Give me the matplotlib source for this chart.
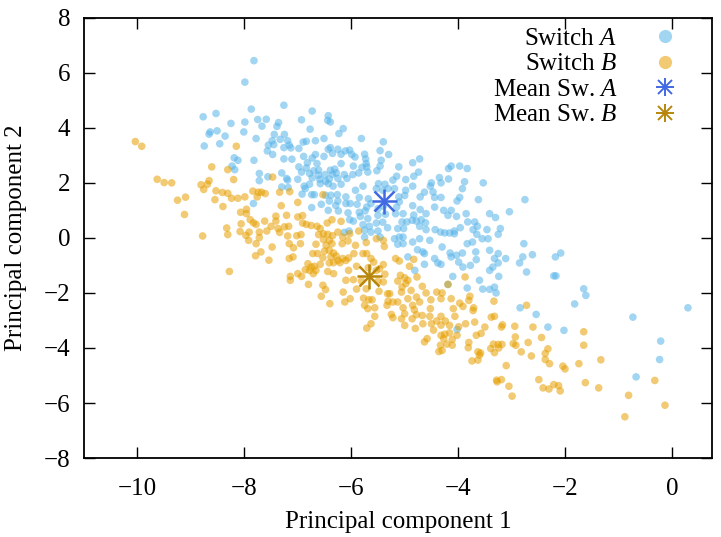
import matplotlib
matplotlib.use("Agg")
import matplotlib.pyplot as plt
import numpy as np
from matplotlib.lines import Line2D

# PCA projections (x = PC1, y = PC2)
SWITCH_A = [
    (-8.77, 4.40), (-8.53, 4.52), (-8.25, 4.16), (-8.64, 3.85), (-8.66, 3.77), (-8.51, 3.89), (-8.36, 3.70),
    (-8.75, 3.34), (-8.46, 3.42), (-8.19, 2.91), (-8.12, 2.82), (-8.23, 2.61), (-8.18, 2.48),
    (-7.82, 6.44), (-7.99, 5.66), (-7.26, 4.82), (-7.87, 4.68), (-6.73, 4.61), (-7.99, 4.21), (-7.75, 4.30),
    (-7.59, 4.31), (-7.67, 4.06), (-7.36, 4.19), (-7.39, 4.05), (-6.93, 4.29), (-6.43, 4.44), (-6.44, 4.27),
    (-6.39, 4.21), (-6.77, 3.95), (-8.01, 3.85), (-7.44, 3.76), (-7.25, 3.76), (-6.23, 3.79), (-6.15, 3.97),
    (-7.78, 3.61), (-5.81, 3.61), (-5.40, 3.49), (-6.51, 3.61), (-7.33, 3.58), (-7.19, 3.53), (-7.48, 3.53),
    (-6.90, 3.48), (-6.84, 3.51), (-6.67, 3.53), (-7.55, 3.37), (-7.45, 3.39), (-7.26, 3.28), (-7.16, 3.37),
    (-7.13, 3.27), (-6.98, 3.25), (-7.57, 3.16), (-7.47, 3.03), (-6.43, 3.22), (-6.39, 3.28), (-6.25, 3.22),
    (-6.11, 3.16), (-6.03, 3.19), (-6.35, 3.07), (-6.19, 3.04), (-5.99, 3.03), (-5.75, 3.04), (-5.46, 3.17),
    (-6.89, 2.96), (-6.51, 2.96), (-6.67, 3.03), (-7.26, 2.87), (-7.11, 2.86), (-6.73, 2.90), (-5.93, 2.94),
    (-5.73, 2.87), (-5.44, 2.82), (-7.82, 2.82), (-6.82, 2.73), (-6.64, 2.70), (-6.19, 2.70), (-5.72, 2.70),
    (-6.98, 2.58), (-6.84, 2.54), (-6.61, 2.46), (-6.70, 2.44), (-6.39, 2.46), (-6.31, 2.50), (-5.96, 2.61),
    (-5.71, 2.58), (-5.80, 2.56), (-5.46, 2.61), (-7.30, 2.36), (-6.93, 2.39), (-6.78, 2.34), (-6.61, 2.28),
    (-6.49, 2.30), (-6.35, 2.31), (-6.28, 2.36), (-6.13, 2.30), (-5.97, 2.30), (-5.86, 2.36), (-5.69, 2.39),
    (-5.52, 2.44), (-7.72, 2.34), (-7.21, 2.16), (-7.00, 2.13), (-6.73, 2.18), (-6.59, 2.13), (-6.41, 2.14),
    (-6.25, 2.16), (-6.08, 2.16), (-7.72, 2.08), (-7.56, 2.22), (-7.19, 2.10), (-6.48, 2.06), (-6.43, 1.97),
    (-6.58, 1.97), (-6.88, 1.88), (-6.86, 1.79), (-6.34, 1.88), (-6.19, 1.95), (-7.30, 1.85), (-7.18, 1.83),
    (-6.78, 1.95), (-5.78, 1.88), (-5.49, 1.97), (-5.37, 1.95), (-5.92, 1.73), (-5.53, 1.79), (-5.41, 1.73),
    (-6.92, 1.59), (-6.74, 1.57), (-6.69, 1.57), (-6.48, 1.55), (-6.38, 1.55), (-6.26, 1.57), (-6.10, 1.49),
    (-5.85, 1.47), (-5.68, 1.42),
    (-5.30, 3.03), (-5.11, 2.58), (-4.85, 2.73), (-4.72, 2.87), (-4.83, 2.24), (-4.74, 2.39), (-4.98, 2.12),
    (-5.15, 2.24), (-5.22, 2.10), (-4.85, 1.88), (-4.98, 1.73), (-5.19, 1.79), (-5.31, 1.79), (-4.63, 1.66),
    (-4.52, 1.88), (-4.50, 2.00), (-4.35, 2.19), (-4.32, 2.00), (-4.18, 2.14), (-4.18, 2.52), (-4.13, 2.61),
    (-3.97, 2.61), (-3.83, 2.52), (-3.88, 2.04), (-3.92, 1.79), (-3.53, 2.00), (-4.47, 1.67), (-4.44, 1.47),
    (-4.71, 1.49), (-5.11, 1.49), (-5.00, 1.54), (-4.32, 1.47), (-3.97, 1.47), (-3.62, 1.39), (-2.75, 1.39),
    (-6.25, 1.34), (-6.41, 1.34), (-6.56, 1.22), (-7.83, 1.25), (-6.29, 1.18), (-6.10, 1.25), (-6.02, 1.25),
    (-5.89, 1.22), (-5.63, 1.25), (-5.71, 1.12), (-6.74, 1.10), (-6.43, 1.00), (-6.24, 0.98), (-6.06, 0.91),
    (-5.85, 0.93), (-5.74, 0.98), (-5.50, 1.06), (-5.40, 1.15), (-6.03, 0.66), (-5.96, 0.61), (-5.83, 0.78),
    (-5.69, 0.70), (-5.50, 0.82), (-5.36, 0.86), (-5.78, 0.48), (-5.66, 0.42), (-5.53, 0.54), (-5.41, 0.57),
    (-5.32, 0.37), (-5.75, 0.28), (-5.63, 0.21), (-5.50, 0.25), (-5.46, 0.03), (-6.13, 0.20), (-6.04, 0.25),
    (-5.75, 0.03),
    (-5.10, 1.31), (-5.15, 1.12), (-5.17, 0.88), (-5.03, 0.88), (-4.85, 1.17), (-4.44, 1.12), (-4.02, 1.34),
    (-4.27, 1.00), (-4.13, 1.00), (-4.19, 0.82), (-4.03, 0.78), (-4.71, 1.03), (-4.60, 0.88), (-4.83, 0.83),
    (-4.86, 0.64), (-4.78, 0.61), (-4.69, 0.66), (-5.05, 0.58), (-4.96, 0.58), (-5.13, 0.34), (-5.02, 0.34),
    (-4.61, 0.55), (-4.72, 0.42), (-4.60, 0.30), (-4.43, 0.30), (-4.33, 0.21), (-4.25, 0.18), (-4.16, 0.18),
    (-4.07, 0.25), (-3.96, 0.37), (-3.82, 0.58), (-3.69, 0.58), (-3.85, 0.88), (-3.41, 0.88), (-3.30, 0.74),
    (-3.04, 0.95), (-3.72, 0.30), (-3.64, 0.42), (-3.46, 0.30), (-3.21, 0.34), (-3.25, 0.13), (-3.65, 0.13),
    (-3.55, -0.03), (-3.44, -0.03), (-3.73, -0.15), (-3.83, -0.21), (-4.07, 0.15), (-4.72, -0.03), (-4.85, -0.15),
    (-5.03, 0.03), (-5.10, 0.03), (-5.19, -0.03), (-5.03, -0.21), (-5.13, -0.23), (-4.53, -0.09), (-4.30, -0.33),
    (-4.76, -0.43), (-4.66, -0.51), (-4.63, -0.57), (-4.94, -0.69), (-4.81, -1.18), (-4.63, -0.96), (-4.44, -0.75),
    (-4.38, -0.91), (-4.32, -0.96), (-4.15, -0.55), (-4.13, -0.69), (-4.03, -0.63), (-3.92, -0.55), (-3.99, -0.88),
    (-3.91, -1.06), (-3.77, -1.00), (-3.67, -0.51), (-3.66, -0.79), (-3.41, -0.45), (-3.25, -0.57), (-3.32, -0.75),
    (-3.25, -0.91), (-3.11, -0.75), (-2.85, -0.91), (-2.79, -0.69), (-2.77, -0.21), (-2.61, -0.61), (-2.72, -1.24),
    (-3.35, -1.06), (-3.41, -1.18), (-3.24, -1.40), (-3.60, -1.54), (-4.10, -1.40), (-3.83, -1.82), (-3.54, -1.86),
    (-3.41, -1.87), (-3.32, -1.79), (-3.29, -2.00), (-2.84, -2.54), (-2.54, -2.78), (-4.19, -1.69), (-4.02, -3.33),
    (-2.18, -0.69), (-2.08, -0.55), (-2.21, -1.38), (-2.17, -1.38), (-1.65, -1.85), (-1.61, -2.09), (-1.82, -2.40),
    (-0.73, -2.88), (0.30, -2.54), (-2.32, -3.24), (-2.02, -3.36), (-0.21, -3.75), (-0.23, -4.42), (-0.67, -5.05),
]

SWITCH_B = [
    (-10.04, 3.50), (-9.92, 3.33), (-8.15, 3.33), (-8.61, 2.58), (-8.31, 2.48), (-9.63, 2.13), (-9.50, 2.01),
    (-9.36, 2.00), (-8.66, 2.08), (-8.81, 1.93), (-8.69, 1.95), (-8.76, 1.76), (-8.20, 2.12), (-8.53, 1.71),
    (-8.41, 1.65), (-8.31, 1.62), (-9.10, 1.48), (-9.25, 1.37), (-8.55, 1.39), (-8.24, 1.44), (-8.12, 1.44),
    (-9.12, 0.85), (-8.40, 1.14), (-8.07, 0.93), (-8.06, 0.51), (-8.33, 0.36), (-8.31, 0.12), (-8.08, 0.23),
    (-8.78, 0.07), (-8.28, -1.22),
    (-7.47, 2.21), (-7.84, 1.70), (-7.74, 1.66), (-7.68, 1.66), (-7.61, 1.61), (-7.34, 1.66), (-7.15, 1.68),
    (-7.76, 1.49), (-7.99, 1.49), (-6.53, 1.57),
    (-7.31, 1.17), (-7.00, 1.29), (-7.96, 0.88), (-7.96, 1.04), (-7.89, 0.66), (-7.78, 0.49), (-7.83, 0.55),
    (-7.62, 0.61), (-7.41, 0.79), (-7.41, 0.61), (-7.21, 0.82), (-7.00, 0.76), (-6.91, 0.81), (-6.91, 0.54),
    (-6.84, 0.49), (-6.75, 0.45), (-6.64, 0.42), (-6.58, 0.34), (-6.45, 0.54), (-6.36, 0.66), (-6.19, 0.60),
    (-7.50, 0.42), (-7.37, 0.34), (-7.25, 0.40), (-7.17, 0.42), (-7.91, 0.21), (-7.72, 0.21), (-7.58, 0.25),
    (-7.34, 0.20), (-7.19, 0.07), (-7.02, 0.08), (-6.94, 0.12), (-6.61, 0.12), (-6.52, 0.15), (-6.44, 0.13),
    (-6.35, 0.08), (-6.25, 0.21), (-6.16, 0.03), (-6.03, 0.15), (-5.86, 0.25), (-7.97, 0.09), (-7.92, -0.09),
    (-7.78, -0.21), (-7.72, 0.01), (-7.48, -0.33), (-7.16, -0.21), (-7.08, -0.36), (-6.95, -0.21), (-6.66, -0.23),
    (-6.52, -0.06), (-6.41, -0.09), (-6.47, -0.27), (-6.36, -0.21), (-6.17, -0.21), (-6.06, -0.11), (-5.92, -0.27),
    (-5.72, -0.17), (-5.53, -0.03), (-5.38, -0.31), (-7.69, -0.51), (-7.79, -0.65), (-7.54, -0.81), (-7.16, -0.75),
    (-7.09, -0.69), (-6.72, -0.57), (-6.63, -0.57), (-6.50, -0.48), (-6.41, -0.45), (-6.33, -0.55), (-6.28, -0.66),
    (-6.38, -0.69), (-6.53, -0.72), (-6.25, -0.82), (-6.16, -0.75), (-6.10, -0.82), (-6.05, -0.73), (-5.95, -0.57),
    (-5.78, -0.57), (-5.71, -0.57), (-5.63, -0.75), (-5.58, -0.88), (-5.40, -0.97), (-6.41, -0.91), (-6.33, -0.90),
    (-6.58, -0.96), (-6.81, -0.94), (-6.75, -1.06), (-6.69, -1.03), (-6.86, -1.16), (-6.78, -1.18), (-6.71, -1.30),
    (-6.66, -1.18), (-7.14, -1.40), (-7.14, -1.54), (-7.00, -1.30), (-6.93, -1.40), (-6.80, -1.69), (-6.44, -1.22),
    (-6.33, -1.30), (-6.21, -0.90), (-6.05, -1.18), (-5.90, -1.03), (-5.68, -1.08), (-5.53, -1.18), (-5.47, -1.12),
    (-5.37, -1.32), (-5.40, -1.60), (-5.50, -1.58), (-5.96, -1.52), (-6.10, -1.54), (-5.81, -1.57), (-6.53, -1.72),
    (-6.48, -1.88), (-6.56, -2.12), (-6.40, -2.39), (-6.15, -1.97), (-6.12, -2.33), (-6.02, -2.21), (-5.90, -1.86),
    (-5.72, -1.85), (-5.77, -2.19), (-5.67, -2.25), (-5.61, -2.25), (-5.48, -1.94), (-5.32, -2.03), (-5.75, -2.45),
    (-5.69, -2.57), (-5.56, -2.54), (-5.56, -2.85), (-5.33, -2.45), (-5.71, -3.28), (-5.63, -3.12),
    (-5.40, -0.09), (-5.17, -0.75), (-5.10, -0.84), (-4.91, -1.03), (-4.83, -0.78), (-5.08, -1.36), (-5.00, -1.45),
    (-4.94, -1.54), (-4.98, -1.66), (-5.05, -1.79), (-5.13, -1.57), (-4.77, -1.42), (-4.67, -1.76), (-4.88, -1.91),
    (-5.06, -1.97), (-5.28, -2.03), (-4.60, -2.00), (-4.40, -1.97), (-4.30, -2.00), (-4.32, -2.21), (-4.51, -2.25),
    (-4.13, -2.21), (-3.97, -2.37), (-4.09, -2.57), (-3.91, -2.49), (-3.78, -2.12), (-3.80, -2.27), (-3.71, -2.54),
    (-3.72, -2.64), (-3.87, -1.42), (-3.33, -2.30), (-2.72, -2.45), (-5.31, -2.30), (-5.22, -2.33), (-5.13, -2.33),
    (-4.94, -2.21), (-4.78, -2.15), (-4.72, -2.33), (-5.03, -2.54), (-4.85, -2.45), (-4.82, -2.61), (-5.00, -2.76),
    (-4.78, -2.79), (-4.86, -2.94), (-5.25, -2.78), (-5.22, -2.90), (-5.06, -2.94), (-4.67, -2.82), (-4.53, -2.85),
    (-4.52, -2.57), (-4.32, -2.85), (-4.24, -3.02), (-4.40, -3.02), (-4.50, -3.12), (-4.66, -3.12), (-5.00, -3.18),
    (-4.16, -3.18), (-4.06, -2.85), (-3.86, -3.12), (-3.69, -3.06), (-3.38, -2.88), (-3.32, -2.85), (-3.19, -3.24),
    (-3.50, -3.24), (-2.94, -3.21), (-2.60, -3.24), (-4.19, -1.69),
    (-4.80, -3.29), (-4.32, -3.17), (-3.99, -3.23), (-3.17, -3.16), (-4.46, -3.35), (-4.32, -3.54), (-4.25, -3.50),
    (-4.16, -3.45), (-4.58, -3.66), (-4.63, -3.78), (-4.27, -3.66), (-4.11, -3.69), (-4.02, -3.54), (-4.33, -3.90),
    (-4.21, -3.86), (-4.11, -3.90), (-4.36, -4.13), (-4.30, -4.09), (-3.80, -3.80), (-3.81, -3.99), (-3.66, -3.54),
    (-3.57, -3.47), (-3.63, -4.14), (-3.58, -4.18), (-3.60, -4.26), (-3.74, -4.47), (-3.63, -4.44), (-3.39, -4.02),
    (-3.34, -3.86), (-3.25, -3.87), (-3.18, -3.87), (-3.32, -4.17), (-3.24, -4.00), (-2.93, -3.60), (-2.97, -3.84),
    (-2.92, -3.90), (-2.69, -3.80), (-2.63, -4.29), (-2.82, -4.14), (-3.10, -4.64), (-3.28, -5.17), (-3.27, -5.23),
    (-3.19, -5.15), (-3.05, -5.39), (-2.99, -5.75), (-2.49, -5.15),
    (-2.44, -3.62), (-2.32, -4.03), (-2.37, -4.20), (-2.37, -4.42), (-2.29, -4.57), (-2.04, -4.66), (-2.00, -4.76),
    (-1.74, -4.57), (-1.33, -4.43), (-1.65, -3.41), (-1.65, -3.90), (-2.41, -5.45), (-2.30, -5.49), (-2.21, -5.33),
    (-2.12, -5.37), (-2.09, -5.56), (-1.62, -5.26), (-1.37, -5.45), (-0.81, -5.72), (-0.88, -6.50), (-0.32, -5.18),
    (-0.13, -6.08),
]

MEAN_A = (-5.38, 1.35)
MEAN_B = (-5.67, -1.39)

LABELS = ["Switch $A$", "Switch $B$", "Mean Sw. $A$", "Mean Sw. $B$"]
X_TICKS = [-10, -8, -6, -4, -2, 0]
Y_TICKS = [-8, -6, -4, -2, 0, 2, 4, 6, 8]

COLOR_A = "#56b4e9"
COLOR_B = "#e69f00"
COLOR_MEAN_A = "#4169e1"
COLOR_MEAN_B = "#b8860b"

plt.rcParams["font.family"] = ["Liberation Serif", "DejaVu Serif"]
plt.rcParams["mathtext.fontset"] = "custom"
plt.rcParams["mathtext.rm"] = "Liberation Serif"
plt.rcParams["mathtext.it"] = "Liberation Serif:italic"
plt.rcParams["font.size"] = 18


def asterisk(ax, point, color, size):
    # gnuplot-style "*" point: a plus laid over a cross
    for marker, scale in (("+", 1.0), ("x", 0.8)):
        ax.plot(*point, marker=marker, markersize=size * scale, color=color, mew=1.8,
                linestyle="none", zorder=3)


def asterisk_handle(color, size):
    return (
        Line2D([], [], marker="+", linestyle="none", markersize=size, color=color, mew=1.4),
        Line2D([], [], marker="x", linestyle="none", markersize=size * 0.8, color=color, mew=1.4),
    )


def main():
    a = np.array(SWITCH_A)
    b = np.array(SWITCH_B)

    fig = plt.figure(figsize=(7.21, 5.37), dpi=100)
    ax = fig.add_axes([0.1165, 0.147, 0.871, 0.820])

    ax.scatter(a[:, 0], a[:, 1], s=30, color=COLOR_A, alpha=0.55, edgecolors="none", zorder=2)
    ax.scatter(b[:, 0], b[:, 1], s=30, color=COLOR_B, alpha=0.55, edgecolors="none", zorder=2)
    asterisk(ax, MEAN_A, COLOR_MEAN_A, 18)
    asterisk(ax, MEAN_B, COLOR_MEAN_B, 18)

    ax.set_xlim(-11, 0.75)
    ax.set_ylim(-8, 8)
    ax.set_xticks(X_TICKS)
    ax.set_yticks(Y_TICKS)
    ax.tick_params(axis="both", direction="in", length=8, width=1.0, top=True, right=True)
    ax.tick_params(axis="x", pad=14)
    ax.tick_params(axis="y", pad=10)
    for spine in ax.spines.values():
        spine.set_linewidth(1.3)

    ax.set_xlabel("Principal component 1", labelpad=8)
    ax.set_ylabel("Principal component 2", labelpad=12)

    handles = [
        Line2D([], [], marker="o", linestyle="none", markersize=9.5, color=COLOR_A, alpha=0.55, mec="none"),
        Line2D([], [], marker="o", linestyle="none", markersize=9.5, color=COLOR_B, alpha=0.55, mec="none"),
        asterisk_handle(COLOR_MEAN_A, 13),
        asterisk_handle(COLOR_MEAN_B, 13),
    ]
    ax.legend(
        handles,
        LABELS,
        loc="upper right",
        bbox_to_anchor=(0.973, 1.012),
        frameon=False,
        markerfirst=False,
        handlelength=1.2,
        handletextpad=1.3,
        labelspacing=0.12,
        borderaxespad=0.2,
    )

    fig.savefig("out.png", dpi=100)
    plt.close(fig)


if __name__ == "__main__":
    main()
